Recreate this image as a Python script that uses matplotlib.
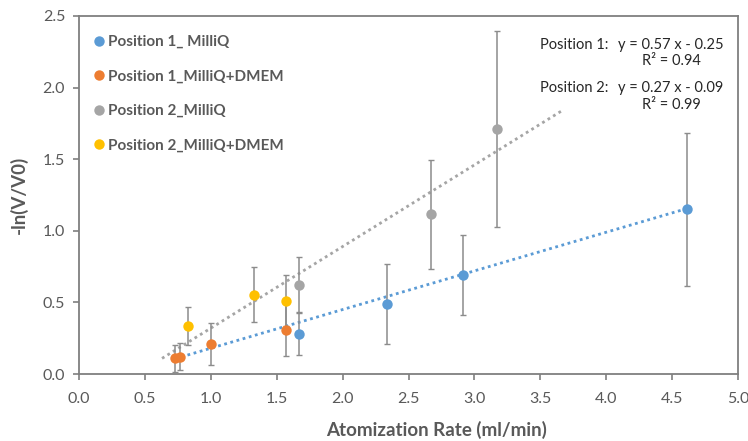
import matplotlib
matplotlib.use('Agg')
import matplotlib.pyplot as plt
import numpy as np
from matplotlib.lines import Line2D

plt.rcParams['font.family'] = ['Lato', 'DejaVu Sans']

# data
p1_milliq_x = [1.67, 2.34, 2.91, 4.61]
p1_milliq_y = [0.28, 0.49, 0.69, 1.15]
p1_milliq_err = [0.145, 0.28, 0.28, 0.535]

p1_dmem_x = [0.73, 0.77, 1.00, 1.57]
p1_dmem_y = [0.11, 0.12, 0.21, 0.31]
p1_dmem_err = [0.095, 0.095, 0.147, 0.187]

p2_milliq_x = [1.67, 2.67, 3.17]
p2_milliq_y = [0.625, 1.115, 1.71]
p2_milliq_err = [0.195, 0.38, 0.685]

p2_dmem_x = [0.83, 1.33, 1.57]
p2_dmem_y = [0.335, 0.555, 0.513]
p2_dmem_err = [0.135, 0.195, 0.18]

# trendlines (slope, intercept, x range)
fit_blue = (0.27, -0.09, 0.73, 4.61)
fit_gray = (0.57, -0.25, 0.63, 3.66)

labels = ['Position 1_ MilliQ', 'Position 1_MilliQ+DMEM', 'Position 2_MilliQ', 'Position 2_MilliQ+DMEM']
colors = ['#5B9BD5', '#ED7D31', '#A5A5A5', '#FFC000']

text_gray = '#595959'
axis_gray = '#7F7F7F'

fig = plt.figure(figsize=(7.48, 4.41), dpi=100)
ax = fig.add_axes([79 / 748, 1 - 374 / 441, (738 - 79) / 748, (374 - 16) / 441])

# trendlines
for (m, b, x0, x1), c in [(fit_gray, '#A5A5A5'), (fit_blue, '#5B9BD5')]:
	xs = np.array([x0, x1])
	ax.plot(xs, m * xs + b, linestyle=(0, (1, 1.3)), color=c, lw=2.0, zorder=2)

series = [
	(p1_milliq_x, p1_milliq_y, p1_milliq_err),
	(p1_dmem_x, p1_dmem_y, p1_dmem_err),
	(p2_milliq_x, p2_milliq_y, p2_milliq_err),
	(p2_dmem_x, p2_dmem_y, p2_dmem_err),
]
for (xs, ys, es), c in zip(series, colors):
	ax.errorbar(xs, ys, yerr=es, fmt='none', ecolor='#8C8C8C', elinewidth=1.1,
				capsize=2.5, capthick=1.0, zorder=3)
for (xs, ys, es), c in zip(series, colors):
	ax.plot(xs, ys, 'o', color=c, markersize=7.5, markeredgewidth=0, zorder=4)

ax.set_xlim(0, 5)
ax.set_ylim(0, 2.5)
ax.set_xticks(np.arange(0, 5.01, 0.5))
ax.set_yticks(np.arange(0, 2.51, 0.5))
ax.xaxis.set_major_formatter(matplotlib.ticker.FormatStrFormatter('%.1f'))
ax.yaxis.set_major_formatter(matplotlib.ticker.FormatStrFormatter('%.1f'))
ax.tick_params(axis='both', direction='out', length=4, width=1.2, color=axis_gray,
			   labelcolor=text_gray, labelsize=11.5)
ax.tick_params(axis='x', pad=9)
ax.tick_params(axis='y', pad=6)
for s in ax.spines.values():
	s.set_color(axis_gray)
	s.set_linewidth(1.3)

ax.set_xlabel('Atomization Rate (ml/min)', fontsize=13.5, fontweight='bold', color=text_gray)
ax.xaxis.set_label_coords((437 - 79) / 659, -0.13)
ax.set_ylabel('-ln(V/V0)', fontsize=13.5, fontweight='bold', color=text_gray)
ax.yaxis.set_label_coords(-0.078, 0.5)

handles = [Line2D([], [], marker='o', linestyle='none', color=c, markersize=7.5, markeredgewidth=0)
		   for c in colors]
leg = ax.legend(handles, labels, loc='upper left', bbox_to_anchor=(0.0, 0.99), frameon=False,
				handlelength=0.6, handletextpad=0.3, labelspacing=1.35, borderaxespad=0.6,
				prop={'size': 11, 'weight': 'bold'})
for t in leg.get_texts():
	t.set_color(text_gray)

ann = dict(fontsize=10.5, color='#262626', va='center')
ax.text(3.50, 2.30, 'Position 1:', ha='left', **ann)
ax.text(4.09, 2.30, 'y = 0.57 x - 0.25', ha='left', **ann)
ax.text(4.72, 2.185, 'R² = 0.94', ha='right', **ann)
ax.text(3.50, 2.00, 'Position 2:', ha='left', **ann)
ax.text(4.09, 2.00, 'y = 0.27 x - 0.09', ha='left', **ann)
ax.text(4.72, 1.88, 'R² = 0.99', ha='right', **ann)

fig.savefig('out.png', dpi=100)
